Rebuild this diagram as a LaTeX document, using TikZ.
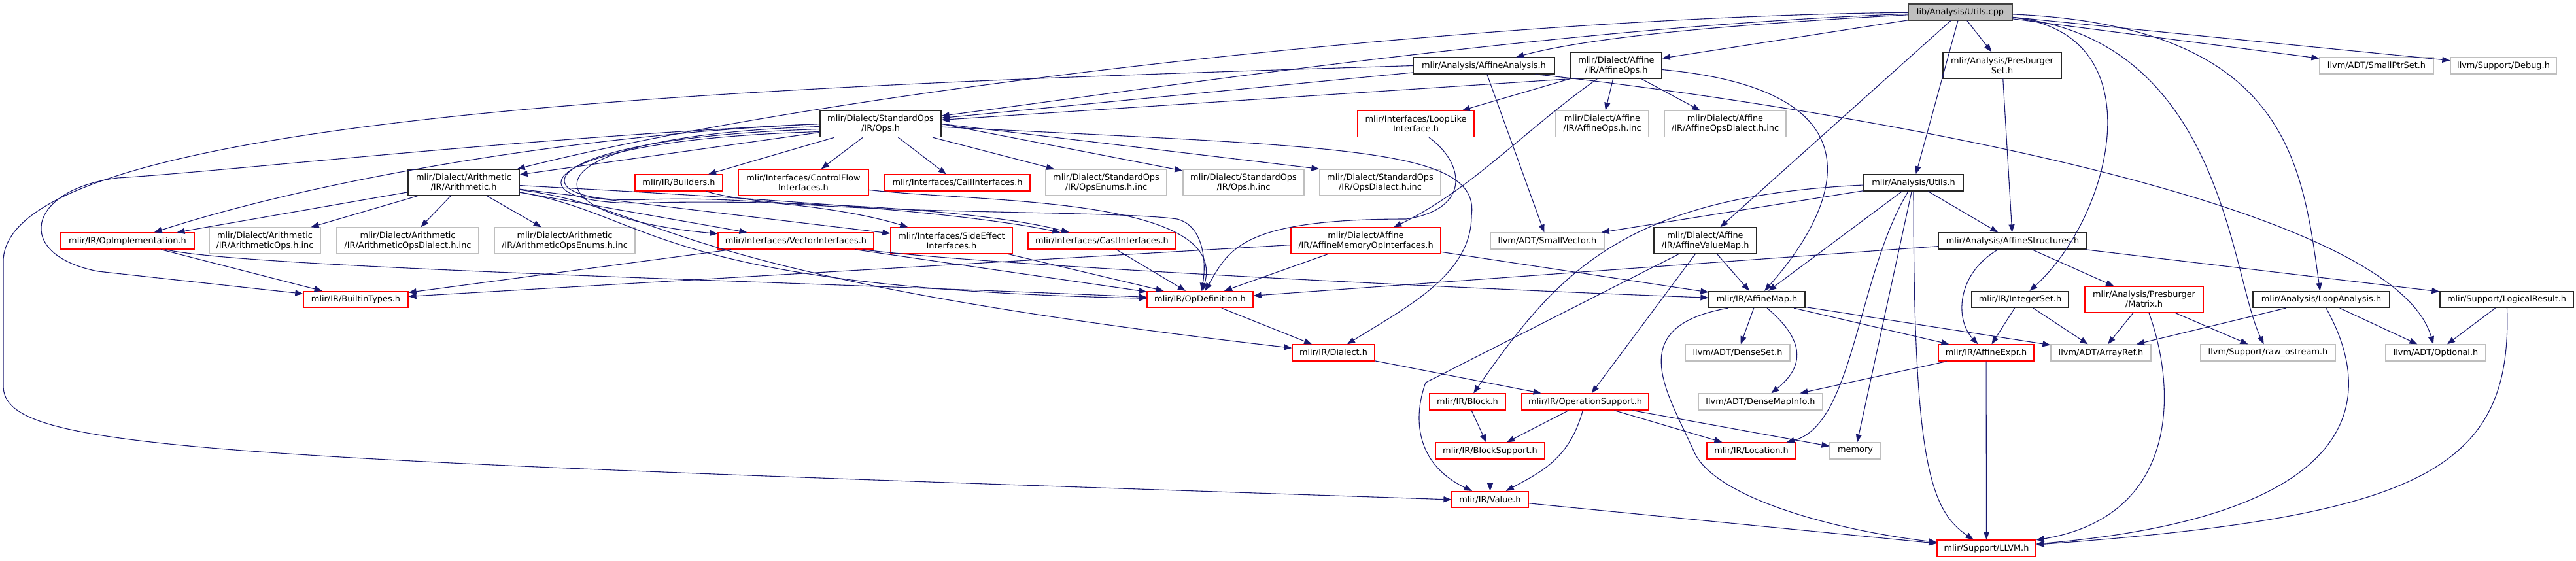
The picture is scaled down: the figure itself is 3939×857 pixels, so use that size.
\documentclass[tikz,border=0pt]{standalone}
\usepackage{fontspec}
\setmainfont{DejaVu Sans}
\usetikzlibrary{arrows.meta}
\definecolor{edgeblue}{HTML}{191970}
\definecolor{extgrey}{HTML}{BFBFBF}
\definecolor{rootgrey}{HTML}{BFBFBF}
\definecolor{truncred}{HTML}{FF0000}

\begin{document}
\begin{tikzpicture}[
    x=1pt, y=-1pt,
    filebox/.style={draw, line width=1.3pt, inner sep=0pt, align=center, fill=white, text=black,
        font=\fontsize{12.9}{15}\selectfont, minimum height=25pt},
    twoline/.style={minimum height=40pt},
    rootbox/.style={filebox, fill=rootgrey, draw=black!75},
    docbox/.style={filebox, draw=black!85},
    truncbox/.style={filebox, draw=truncred},
    extbox/.style={filebox, draw=extgrey},
    incl/.style={draw=edgeblue, line width=1.1pt, -{Triangle[length=12pt,width=9pt]}}
]
\useasboundingbox (0,0) rectangle (3939,857);

\node[rootbox, minimum width=159pt] (utilscpp) at (2997.5,18.5) {lib/Analysis/Utils.cpp};

\node[docbox, minimum width=216pt] (affanalysis) at (2269,100.5) {mlir/Analysis/AffineAnalysis.h};
\node[docbox, twoline, minimum width=139pt] (affops) at (2471.5,100) {mlir/Dialect/Affine\\/IR/AffineOps.h};
\node[docbox, twoline, minimum width=181pt] (presset) at (3061.5,100) {mlir/Analysis/Presburger\\Set.h};
\node[extbox, minimum width=174pt] (smallptrset) at (3634,100.5) {llvm/ADT/SmallPtrSet.h};
\node[extbox, minimum width=162pt] (debug) at (3828,100.5) {llvm/Support/Debug.h};

\node[docbox, twoline, minimum width=185pt] (stdops) at (1346.5,189.5) {mlir/Dialect/StandardOps\\/IR/Ops.h};
\node[truncbox, twoline, minimum width=178pt] (looplike) at (2165,189.5) {mlir/Interfaces/LoopLike\\Interface.h};
\node[extbox, twoline, minimum width=142pt] (affopsinc) at (2450,189.5) {mlir/Dialect/Affine\\/IR/AffineOps.h.inc};
\node[extbox, twoline, minimum width=186pt] (affopsdialinc) at (2638,189.5) {mlir/Dialect/Affine\\/IR/AffineOpsDialect.h.inc};

\node[docbox, twoline, minimum width=170pt] (arith) at (709,279) {mlir/Dialect/Arithmetic\\/IR/Arithmetic.h};
\node[truncbox, minimum width=134pt] (builders) at (1038,279.5) {mlir/IR/Builders.h};
\node[truncbox, twoline, minimum width=199pt] (ctrlflow) at (1228.5,279) {mlir/Interfaces/ControlFlow\\Interfaces.h};
\node[truncbox, minimum width=222pt] (callif) at (1464,279.5) {mlir/Interfaces/CallInterfaces.h};
\node[extbox, twoline, minimum width=185pt] (opsenums) at (1691.5,279) {mlir/Dialect/StandardOps\\/IR/OpsEnums.h.inc};
\node[extbox, twoline, minimum width=185pt] (opsinc) at (1901.5,279) {mlir/Dialect/StandardOps\\/IR/Ops.h.inc};
\node[extbox, twoline, minimum width=185pt] (opsdialinc) at (2110.5,279) {mlir/Dialect/StandardOps\\/IR/OpsDialect.h.inc};
\node[docbox, minimum width=152pt] (autils) at (2926,279.5) {mlir/Analysis/Utils.h};

\node[truncbox, minimum width=204pt] (opimpl) at (195,368.5) {mlir/IR/OpImplementation.h};
\node[extbox, twoline, minimum width=170pt] (arithopsinc) at (405,368) {mlir/Dialect/Arithmetic\\/IR/ArithmeticOps.h.inc};
\node[extbox, twoline, minimum width=217pt] (arithdialinc) at (623.5,368) {mlir/Dialect/Arithmetic\\/IR/ArithmeticOpsDialect.h.inc};
\node[extbox, twoline, minimum width=215pt] (arithenumsinc) at (863.5,368) {mlir/Dialect/Arithmetic\\/IR/ArithmeticOpsEnums.h.inc};
\node[truncbox, minimum width=238pt] (vectorif) at (1217,368.5) {mlir/Interfaces/VectorInterfaces.h};
\node[truncbox, twoline, minimum width=186pt] (sideeffect) at (1455,368) {mlir/Interfaces/SideEffect\\Interfaces.h};
\node[truncbox, minimum width=226pt] (castif) at (1685,368.5) {mlir/Interfaces/CastInterfaces.h};
\node[truncbox, twoline, minimum width=229pt] (affmemop) at (2088.5,368) {mlir/Dialect/Affine\\/IR/AffineMemoryOpInterfaces.h};
\node[extbox, minimum width=174pt] (smallvec) at (2366,368.5) {llvm/ADT/SmallVector.h};
\node[docbox, twoline, minimum width=157pt] (affvaluemap) at (2607.5,368) {mlir/Dialect/Affine\\/IR/AffineValueMap.h};
\node[docbox, minimum width=227pt] (affstruct) at (3077.5,368.5) {mlir/Analysis/AffineStructures.h};

\node[truncbox, minimum width=160pt] (builtintypes) at (544,458) {mlir/IR/BuiltinTypes.h};
\node[truncbox, minimum width=162pt] (opdef) at (1835,458) {mlir/IR/OpDefinition.h};
\node[docbox, minimum width=147pt] (affmap) at (2686.5,458) {mlir/IR/AffineMap.h};
\node[docbox, minimum width=148pt] (intset) at (3089,458) {mlir/IR/IntegerSet.h};
\node[truncbox, twoline, minimum width=181pt] (matrix) at (3278.5,458) {mlir/Analysis/Presburger\\/Matrix.h};
\node[docbox, minimum width=209pt] (loopanalysis) at (3549.5,458) {mlir/Analysis/LoopAnalysis.h};
\node[docbox, minimum width=204pt] (logicalresult) at (3833,458) {mlir/Support/LogicalResult.h};

\node[truncbox, minimum width=126pt] (dialect) at (2039,539.5) {mlir/IR/Dialect.h};
\node[extbox, minimum width=160pt] (denseset) at (2657,539.5) {llvm/ADT/DenseSet.h};
\node[truncbox, minimum width=146pt] (affexpr) at (3037,539.5) {mlir/IR/AffineExpr.h};
\node[extbox, minimum width=153pt] (arrayref) at (3212.5,539.5) {llvm/ADT/ArrayRef.h};
\node[extbox, minimum width=206pt] (rawostream) at (3468,539.5) {llvm/Support/raw\_ostream.h};
\node[extbox, minimum width=153pt] (optional) at (3724.5,539.5) {llvm/ADT/Optional.h};

\node[truncbox, minimum width=116pt] (block) at (2244,614.5) {mlir/IR/Block.h};
\node[truncbox, minimum width=194pt] (opsupport) at (2424,614.5) {mlir/IR/OperationSupport.h};
\node[extbox, minimum width=190pt] (densemapinfo) at (2692,614.5) {llvm/ADT/DenseMapInfo.h};

\node[truncbox, minimum width=167pt] (blocksupport) at (2278.5,689.5) {mlir/IR/BlockSupport.h};
\node[truncbox, minimum width=136pt] (location) at (2678,689.5) {mlir/IR/Location.h};
\node[extbox, minimum width=78pt] (memory) at (2837,689.5) {memory};

\node[truncbox, minimum width=117pt] (value) at (2278.5,764) {mlir/IR/Value.h};
\node[truncbox, minimum width=151pt] (llvmh) at (3037.5,838.5) {mlir/Support/LLVM.h};

\draw[incl] (utilscpp) .. controls (2300,25) and (1300,130) .. (arith);
\draw[incl] (utilscpp) .. controls (2400,40) and (1800,130) .. (stdops);
\draw[incl] (utilscpp) .. controls (2600,40) and (2420,60) .. (affanalysis);
\draw[incl] (utilscpp) -- (affops);
\draw[incl] (utilscpp) -- (affvaluemap);
\draw[incl] (utilscpp) -- (autils);
\draw[incl] (utilscpp) -- (presset);
\draw[incl] (utilscpp) .. controls (3300,50) and (3230,330) .. (intset);
\draw[incl] (utilscpp) .. controls (3400,60) and (3410,420) .. (rawostream);
\draw[incl] (utilscpp) .. controls (3500,40) and (3520,250) .. (loopanalysis);
\draw[incl] (utilscpp) -- (smallptrset);
\draw[incl] (utilscpp) -- (debug);

\draw[incl] (affanalysis) -- (stdops);
\draw[incl] (affanalysis.west) .. controls (1200,130) and (5,170) .. (5,400) -- (5,590) .. controls (5,690) and (300,700) .. (value.west);
\draw[incl] (affanalysis) -- (smallvec);
\draw[incl] ([xshift=-30pt]affanalysis.south east) .. controls (2600,140) and (3650,280) .. (optional);

\draw[incl] (affops.south west) -- (stdops);
\draw[incl] (affops) -- (looplike);
\draw[incl] (affops) -- (affopsinc);
\draw[incl] (affops) -- (affopsdialinc);
\draw[incl] (affops) .. controls (2330,200) and (2250,290) .. (affmemop);
\draw[incl] (affops) .. controls (2900,140) and (2800,330) .. (affmap);

\draw[incl] (presset) -- (affstruct);

\draw[incl] (stdops) -- (arith);
\draw[incl] (stdops) -- (builders);
\draw[incl] (stdops) -- (ctrlflow);
\draw[incl] (stdops) -- (callif);
\draw[incl] (stdops) -- (opsenums);
\draw[incl] (stdops.east) -- (opsinc);
\draw[incl] (stdops.east) -- (opsdialinc.north west);
\draw[incl] (stdops) .. controls (2050,225) and (2265,225) .. (2250,330) .. controls (2250,420) and (2150,470) .. (dialect);
\draw[incl] (stdops.west) .. controls (900,205) and (500,270) .. (opimpl);
\draw[incl] (stdops.west) .. controls (800,210) and (350,262) .. (180,272) .. controls (40,290) and (20,390) .. (150,415) -- (builtintypes);
\draw[incl] ([yshift=-4pt]stdops.west) .. controls (780,210) and (800,330) .. (vectorif);
\draw[incl] ([yshift=-8pt]stdops.west) .. controls (790,212) and (790,315) .. (990,305) .. controls (1150,300) and (1300,320) .. (sideeffect);
\draw[incl] ([yshift=-12pt]stdops.west) .. controls (780,215) and (780,320) .. (1000,310) .. controls (1200,305) and (1500,320) .. (castif);

\draw[incl] (looplike.south) ++(20,0) .. controls (2240,250) and (2250,320) .. (2150,335) .. controls (1900,335) and (1880,380) .. (opdef);

\draw[incl] (arith) -- (opimpl);
\draw[incl] (arith) -- (arithopsinc);
\draw[incl] (arith) -- (arithdialinc);
\draw[incl] (arith) -- (arithenumsinc);
\draw[incl] (arith) -- (vectorif);
\draw[incl] (arith) -- (sideeffect);
\draw[incl] (arith) .. controls (1100,300) and (1450,320) .. (castif);
\draw[incl] (arith) .. controls (1000,330) and (1000,440) .. (opdef);
\draw[incl] (arith) .. controls (1020,320) and (1000,420) .. (dialect);

\draw[incl] (builders) .. controls (1200,330) and (1700,320) .. (1800,335) .. controls (1840,345) and (1845,400) .. (opdef);
\draw[incl] (ctrlflow) .. controls (1500,310) and (1880,300) .. (opdef);

\draw[incl] (autils) .. controls (2480,300) and (2380,420) .. (block);
\draw[incl] (autils) -- (smallvec);
\draw[incl] (autils) -- (affmap);
\draw[incl] (autils) .. controls (2840,420) and (2835,650) .. ([xshift=-15pt]location.north east);
\draw[incl] (autils) -- (memory);
\draw[incl] (autils) .. controls (2926,700) and (2950,780) .. (llvmh);
\draw[incl] (autils) -- (affstruct);

\draw[incl] ([xshift=-45pt]opimpl.south east) .. controls (380,410) and (1200,430) .. (opdef);
\draw[incl] (opimpl) -- (builtintypes);

\draw[incl] (vectorif) -- (builtintypes);
\draw[incl] (vectorif) -- (opdef);
\draw[incl] (vectorif) .. controls (1500,405) and (2200,440) .. (affmap);
\draw[incl] (sideeffect) -- (opdef);
\draw[incl] (castif) -- (opdef);

\draw[incl] (affmemop) -- (builtintypes);
\draw[incl] (affmemop) -- (opdef);
\draw[incl] (affmemop) -- (affmap);

\draw[incl] (affvaluemap) -- (affmap);
\draw[incl] (affvaluemap) -- (opsupport);
\draw[incl] (affvaluemap) -- (2180,585) .. controls (2160,640) and (2165,710) .. (value);

\draw[incl] (affstruct) -- (opdef);
\draw[incl] (affstruct) .. controls (2990,420) and (2990,490) .. (affexpr);
\draw[incl] (affstruct) -- (matrix);
\draw[incl] (affstruct) -- (logicalresult);

\draw[incl] (opdef) -- (dialect);

\draw[incl] (affmap) -- (denseset);
\draw[incl] (affmap) .. controls (2760,520) and (2760,560) .. (densemapinfo);
\draw[incl] (affmap) -- (affexpr);
\draw[incl] (affmap) -- (arrayref);
\draw[incl] ([xshift=30pt]affmap.south west) .. controls (2480,500) and (2550,600) .. (2590,690) .. controls (2620,760) and (2800,810) .. (llvmh);

\draw[incl] (intset) -- (affexpr);
\draw[incl] (intset) -- (arrayref);
\draw[incl] (matrix) -- (arrayref);
\draw[incl] (matrix) -- (rawostream);
\draw[incl] (matrix) .. controls (3330,600) and (3330,790) .. (llvmh);
\draw[incl] (loopanalysis) -- (arrayref);
\draw[incl] (loopanalysis) -- (optional);
\draw[incl] (loopanalysis) .. controls (3640,620) and (3600,790) .. (llvmh);
\draw[incl] (logicalresult) -- (optional);
\draw[incl] (logicalresult) .. controls (3842,720) and (3700,790) .. (llvmh);

\draw[incl] (dialect) -- (opsupport);
\draw[incl] (affexpr) -- (densemapinfo);
\draw[incl] (affexpr) -- (llvmh);

\draw[incl] (block) -- (blocksupport);
\draw[incl] (opsupport) -- (blocksupport);
\draw[incl] (opsupport) .. controls (2400,700) and (2360,720) .. (value);
\draw[incl] (opsupport) -- (location);
\draw[incl] (opsupport) -- (memory);
\draw[incl] (blocksupport) -- (value);
\draw[incl] (value) -- (llvmh);
\end{tikzpicture}
\end{document}
